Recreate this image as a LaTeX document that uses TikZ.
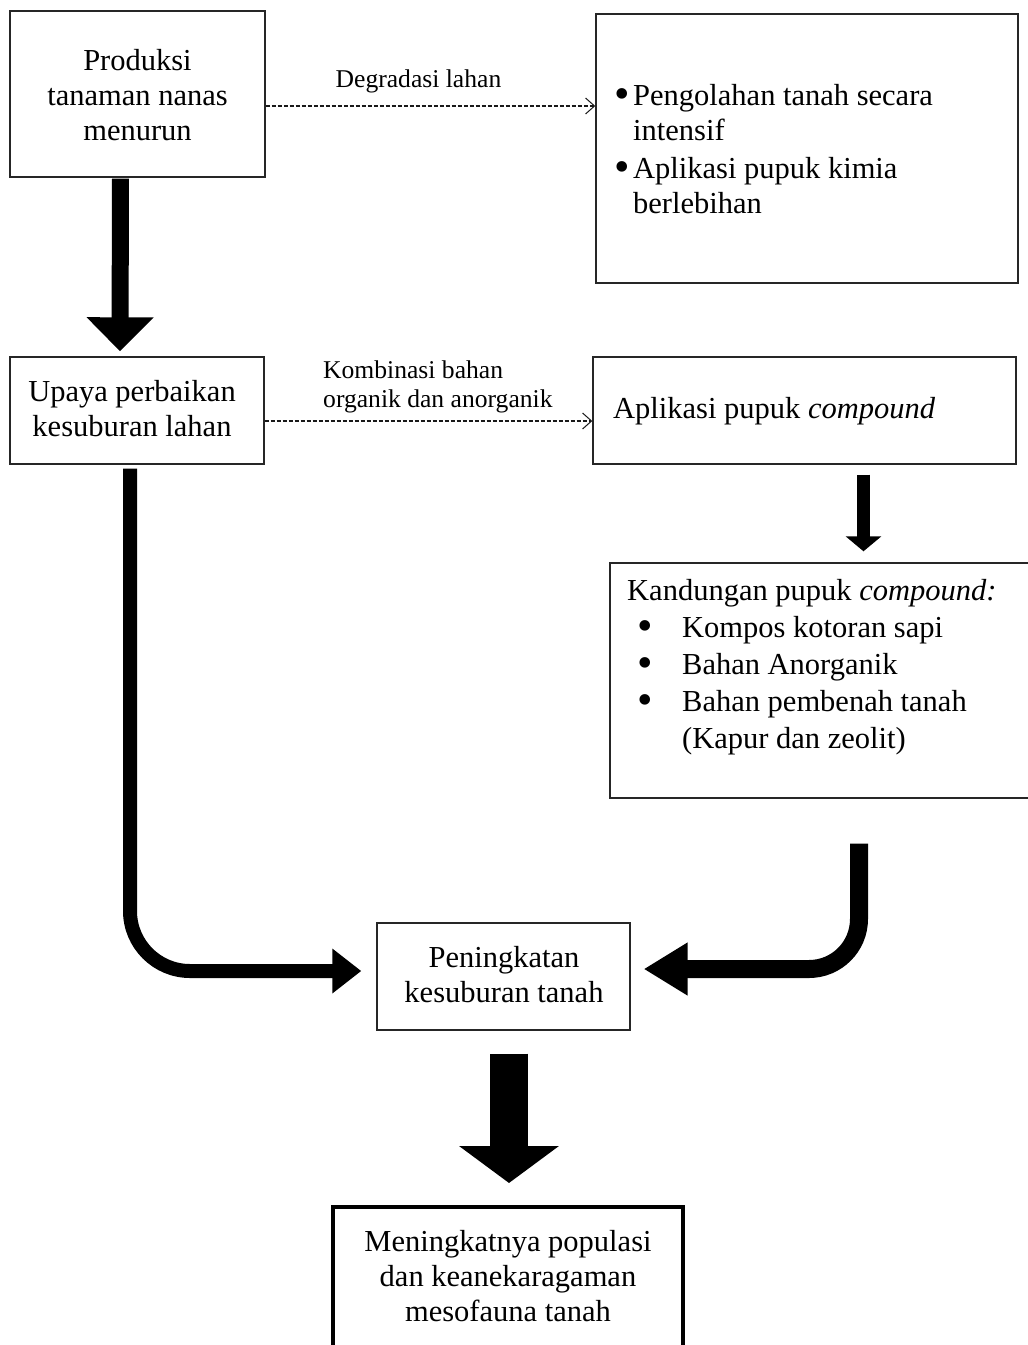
\documentclass[tikz,border=0pt]{standalone}
\usepackage{fontspec}
\usepackage{graphicx}
\setmainfont{Liberation Serif}
\usetikzlibrary{arrows.meta}
\newcommand{\bigbul}{\raisebox{-0.1em}{\scalebox{1.45}{•}}}
\begin{document}
\begin{tikzpicture}[x=1pt,y=-1pt,
  box/.style={draw=black!85,line width=1.4pt,inner sep=0pt,fill=white},
  bigtxt/.style={inner sep=0pt,font=\fontsize{30.5}{35}\selectfont},
  smalltxt/.style={inner sep=0pt,font=\fontsize{25.6}{29}\selectfont},
  dasharrow/.style={draw=black!90,line width=1.1pt,dash pattern=on 4pt off 2pt,
     -{Straight Barb[length=9pt,width=16pt,line width=1pt]}},
  thick arrow/.style={line width=#1,draw=black}
]
\useasboundingbox (0,0) rectangle (1028,1345);
\clip (0,0) rectangle (1028,1345);
\fill[white] (0,0) rectangle (1028,1345);

% boxes
\node[box,minimum width=255pt,minimum height=166pt] (A) at (137.5,94) {};
\node[box,minimum width=422pt,minimum height=269pt] (B) at (807,148.5) {};
\node[box,minimum width=254pt,minimum height=107pt] (C) at (137,410.5) {};
\node[box,minimum width=423pt,minimum height=107pt] (D) at (804.5,410.5) {};
\node[box,minimum width=430pt,minimum height=235pt] (E) at (825,680.5) {};
\node[box,minimum width=253pt,minimum height=107pt] (F) at (503.5,976.5) {};
\node[box,line width=4pt,draw=black,minimum width=350pt,minimum height=170pt] (G) at (508,1292) {};

% texts
\node[bigtxt,align=center] (At) at (137.5,98.5)
  {\strut Produksi\\\strut tanaman nanas\\\strut menurun};
\node[bigtxt,anchor=west] (Bt) at (612,152)
  {\begin{tabular}{@{}l@{}}
   \makebox[20pt][c]{\bigbul}\hspace*{1pt}Pengolahan tanah secara\\
   \hspace*{21pt}intensif\\[3pt]
   \makebox[20pt][c]{\bigbul}\hspace*{1pt}Aplikasi pupuk kimia\\
   \hspace*{21pt}berlebihan
   \end{tabular}};
\node[bigtxt,align=center] (Ct) at (132,411.5)
  {\strut Upaya perbaikan\\\strut kesuburan lahan};
\node[bigtxt,anchor=west] (Dt) at (613,411)
  {\strut Aplikasi pupuk \textit{compound}};
\node[inner sep=0pt,font=\fontsize{30.5}{37}\selectfont,anchor=west] (Et) at (627,667)
  {\begin{tabular}{@{}l@{}}
   Kandungan pupuk \textit{compound:}\\
   \hspace*{8pt}\makebox[20pt][c]{\bigbul}\hspace*{27pt}Kompos kotoran sapi\\
   \hspace*{8pt}\makebox[20pt][c]{\bigbul}\hspace*{27pt}Bahan Anorganik\\
   \hspace*{8pt}\makebox[20pt][c]{\bigbul}\hspace*{27pt}Bahan pembenah tanah\\
   \hspace*{55pt}(Kapur dan zeolit)
   \end{tabular}};
\node[bigtxt,align=center] (Ft) at (504,978)
  {\strut Peningkatan\\\strut kesuburan tanah};
\node[bigtxt,align=center] (Gt) at (508,1279.5)
  {\strut Meningkatnya populasi\\\strut dan keanekaragaman\\\strut mesofauna tanah};

% dashed connectors
\draw[dasharrow] ([yshift=-12pt]A.east) -- ([yshift=-12pt]A.east -| B.west)
  node[smalltxt,midway,yshift=24pt,xshift=-12pt] (L1) {\strut Degradasi lahan};
\draw[dasharrow] ([yshift=-10.5pt]C.east) -- ([yshift=-10.5pt]C.east -| D.west);
\node[smalltxt,align=left,anchor=west] (L2) at (323,387)
  {\strut Kombinasi bahan\\\strut organik dan anorganik};

% thick arrows
\draw[thick arrow=17pt,-{Triangle[width=65pt,length=34pt]}]
  ([xshift=-17pt,yshift=-1pt]A.south) -- ([xshift=-17pt,yshift=5pt]C.north);
\draw[thick arrow=13pt,-{Triangle[width=35pt,length=15pt]}]
  ([xshift=59pt,yshift=-10pt]D.south) -- ([xshift=38.5pt,yshift=11pt]E.north);
\draw[thick arrow=14pt,rounded corners=60pt,-{Triangle[width=43pt,length=29pt]}]
  ([xshift=-7pt,yshift=-4pt]C.south) |- ([xshift=-15pt,yshift=5.5pt]F.west);
\draw[thick arrow=18pt,rounded corners=50pt,-{Triangle[width=50pt,length=44pt]}]
  ([xshift=34pt,yshift=-45pt]E.south) |- ([xshift=13pt,yshift=7.5pt]F.east);
\draw[thick arrow=38pt,-{Triangle[width=98pt,length=37pt]}]
  ([xshift=5.5pt,yshift=-23pt]F.south) -- ([xshift=1pt,yshift=22pt]G.north);
\end{tikzpicture}
\end{document}
